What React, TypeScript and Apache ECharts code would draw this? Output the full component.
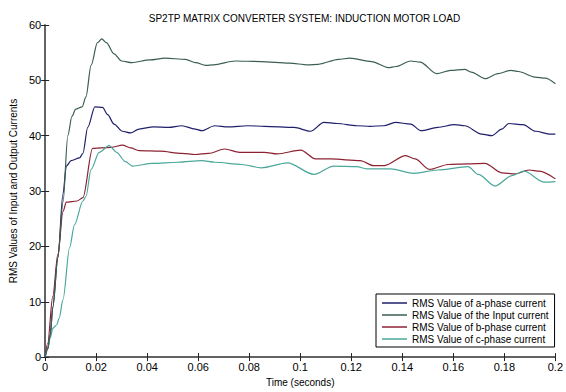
import React, { useEffect, useRef } from "react";
import * as echarts from "echarts";

const title = "SP2TP MATRIX CONVERTER SYSTEM: INDUCTION MOTOR LOAD";
const xName = "Time (seconds)";
const yName = "RMS Values of Input and Output Currents";
const seriesNames = [
  "RMS Value of a-phase current",
  "RMS Value of the Input current",
  "RMS Value of b-phase current",
  "RMS Value of c-phase current",
];

const aPhase: number[][] = [
  [0, 0], [0.001, 1.5], [0.002, 4], [0.003, 9], [0.005, 18], [0.007, 29.5], [0.0083, 34.5],
  [0.0102, 35.5], [0.0135, 36], [0.0148, 36.8], [0.0167, 41.5], [0.0195, 45.2], [0.0225, 45.1],
  [0.0245, 43.8], [0.027, 42.1], [0.0303, 40.8], [0.0335, 40.5], [0.0368, 41.2], [0.0425, 41.6],
  [0.0484, 41.5], [0.0536, 41.8], [0.0588, 41.2], [0.0614, 40.9], [0.0665, 41.8], [0.0717, 41.6],
  [0.0795, 41.8], [0.086, 41.7], [0.0976, 41.5], [0.104, 40.8], [0.1093, 42.4], [0.1145, 42.2],
  [0.1222, 41.8], [0.1274, 41.7], [0.1327, 41.8], [0.1373, 42.4], [0.1433, 42.1], [0.1473, 40.9],
  [0.1539, 41.5], [0.1605, 42.0], [0.1645, 41.8], [0.1711, 40.3], [0.1751, 40.0], [0.179, 41.2],
  [0.1817, 42.2], [0.1873, 42.0], [0.1923, 40.8], [0.1976, 40.3], [0.2, 40.3],
];

const inputCurrent: number[][] = [
  [0, 0], [0.001, 1.5], [0.002, 4], [0.003, 9], [0.005, 18], [0.007, 28], [0.0089, 40],
  [0.0105, 43.5], [0.012, 44.8], [0.0145, 45.2], [0.016, 47], [0.018, 52.7], [0.0205, 56.8],
  [0.0222, 57.5], [0.024, 56.8], [0.027, 54.8], [0.03, 53.5], [0.034, 53.2], [0.041, 53.7],
  [0.047, 54.0], [0.055, 53.8], [0.059, 53.2], [0.063, 52.7], [0.066, 52.8], [0.0745, 53.5],
  [0.0845, 53.4], [0.0957, 53.1], [0.103, 52.8], [0.107, 52.9], [0.115, 53.8], [0.1195, 54.0],
  [0.128, 53.4], [0.1345, 52.3], [0.1375, 52.5], [0.1433, 53.5], [0.147, 53.3], [0.1535, 51.2],
  [0.159, 51.8], [0.1645, 52.0], [0.167, 51.5], [0.1725, 50.3], [0.1775, 51.2], [0.1825, 51.8],
  [0.1855, 51.6], [0.192, 50.6], [0.196, 50.4], [0.2, 49.4],
];

const bPhase: number[][] = [
  [0, 0], [0.001, 2.5], [0.003, 11], [0.005, 18.6], [0.007, 26.3], [0.0083, 28], [0.0125, 28.2],
  [0.0148, 28.8], [0.0186, 37.7], [0.022, 37.8], [0.026, 37.9], [0.0303, 38.3], [0.0335, 37.8],
  [0.0368, 37.3], [0.045, 37.2], [0.0536, 36.8], [0.0588, 36.6], [0.064, 36.8], [0.0704, 37.6],
  [0.0762, 37.0], [0.0859, 37.0], [0.091, 36.7], [0.1002, 37.4], [0.106, 35.8], [0.112, 35.8],
  [0.1235, 35.5], [0.1287, 34.6], [0.133, 34.6], [0.1413, 36.4], [0.145, 35.8], [0.1506, 33.9],
  [0.158, 34.8], [0.1656, 34.9], [0.1724, 35.0], [0.179, 33.3], [0.1842, 33.1], [0.1897, 33.8],
  [0.1937, 33.6], [0.2, 32.2],
];

const cPhase: number[][] = [
  [0, 0], [0.001, 1.5], [0.002, 3.5], [0.003, 5.2], [0.0045, 5.8], [0.0055, 7], [0.007, 10.4],
  [0.0096, 19.8], [0.0115, 23.9], [0.0148, 28.2], [0.016, 29], [0.018, 33.9], [0.0212, 37],
  [0.0251, 38.2], [0.028, 37], [0.0315, 35.3], [0.0342, 34.5], [0.042, 35], [0.052, 35.2],
  [0.0614, 35.5], [0.0665, 35.2], [0.077, 34.8], [0.0847, 34.2], [0.095, 35.1], [0.1054, 33.0],
  [0.1131, 34.5], [0.1222, 34.4], [0.126, 34.0], [0.1353, 34.0], [0.1446, 33.2], [0.1539, 33.8],
  [0.1658, 34.4], [0.1698, 33.0], [0.1764, 30.9], [0.183, 32.8], [0.1877, 33.6], [0.1957, 31.6],
  [0.2, 31.7],
];

const seriesData = [aPhase, inputCurrent, bPhase, cPhase];
const colors = ["#1f1f6b", "#3b5f52", "#8c2333", "#4aa89a"];

const FONT = "Liberation Sans, Arial, sans-serif";

export default function App() {
  const ref = useRef<HTMLDivElement>(null);
  useEffect(() => {
    if (!ref.current) return;
    const chart = echarts.init(ref.current, null, { renderer: "svg" });
    const axisLine = { show: true, lineStyle: { color: "#5a5a5a", width: 1.5 } };
    const tick = { show: true, inside: true, length: 4, lineStyle: { color: "#222", width: 1 } };
    const fmt = (v: number) => String(+v.toFixed(2));
    chart.setOption({
      animation: false,
      backgroundColor: "#fff",
      textStyle: { fontFamily: FONT },
      title: {
        text: title,
        left: 299.5,
        textAlign: "center",
        top: 8,
        textStyle: { fontSize: 10, fontWeight: "normal", color: "#000", fontFamily: FONT },
      },
      grid: { left: 42, right: 9, top: 25, bottom: 26, containLabel: false },
      legend: {
        data: seriesNames,
        orient: "vertical",
        left: 376,
        top: 294,
        width: 163,
        padding: [3, 6, 2, 6],
        icon: "rect",
        itemWidth: 25,
        itemHeight: 1.5,
        itemGap: 0,
        borderColor: "#000",
        borderWidth: 1,
        backgroundColor: "#fff",
        textStyle: { fontSize: 10, color: "#000", fontFamily: FONT, lineHeight: 12 },
      },
      xAxis: [
        {
          type: "value",
          min: 0,
          max: 0.2,
          interval: 0.02,
          name: xName,
          nameLocation: "middle",
          nameGap: 19,
          nameTextStyle: { fontSize: 10, color: "#000", fontFamily: FONT },
          axisLine,
          axisTick: tick,
          splitLine: { show: false },
          axisLabel: { fontSize: 11, color: "#000", margin: 4, formatter: fmt, fontFamily: FONT },
        },
        {
          type: "value",
          position: "top",
          min: 0,
          max: 0.2,
          interval: 0.02,
          axisLine,
          axisTick: tick,
          splitLine: { show: false },
          axisLabel: { show: false },
        },
      ],
      yAxis: [
        {
          type: "value",
          min: 0,
          max: 60,
          interval: 10,
          name: yName,
          nameLocation: "middle",
          nameGap: 19,
          nameTextStyle: { fontSize: 10, color: "#000", fontFamily: FONT },
          axisLine,
          axisTick: tick,
          splitLine: { show: false },
          axisLabel: { fontSize: 11, color: "#000", margin: 4, fontFamily: FONT },
        },
        {
          type: "value",
          position: "right",
          min: 0,
          max: 60,
          interval: 10,
          axisLine,
          axisTick: tick,
          splitLine: { show: false },
          axisLabel: { show: false },
        },
      ],
      series: seriesData.map((d, i) => ({
        name: seriesNames[i],
        type: "line",
        data: d,
        xAxisIndex: 0,
        yAxisIndex: 0,
        symbol: "none",
        smooth: 0.3,
        smoothMonotone: "x",
        lineStyle: { color: colors[i], width: 1.2 },
        itemStyle: { color: colors[i] },
        z: i === 1 ? 3 : 2,
      })),
    });
    return () => chart.dispose();
  }, []);
  return <div ref={ref} style={{ width: 566, height: 392, position: "absolute", left: 0, top: 0 }} />;
}
